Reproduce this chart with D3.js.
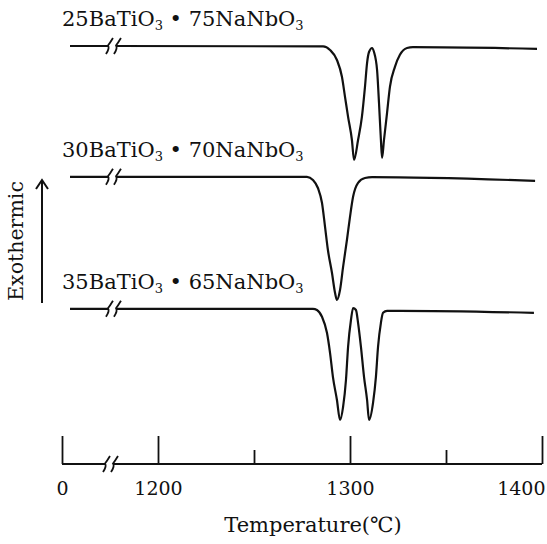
<!DOCTYPE html>
<html>
<head>
<meta charset="utf-8">
<script src="https://cdn.jsdelivr.net/npm/d3@7"></script>
<style>
body { margin: 0; background: #fff; }
text { font-family: "DejaVu Serif", "Liberation Serif", serif; fill: #111; }
</style>
</head>
<body>
<div id="chart"></div>
<script>
var svgWidth = 547;
var svgHeight = 544;

// DTA traces, [temperature (C), signal (arb. units)]
// values below the axis break (< 1200) only carry the flat baseline stub
var curve25 = [[100, 98.5], [587, 98.5], [687, 98.5], [1286, 98.4], [1289.6, 97.5], [1293.2, 95],
    [1295.8, 90.8], [1297.4, 85.8], [1299, 80.8], [1301, 75], [1302.1, 70], [1304.2, 75],
    [1306.2, 80.8], [1307.8, 88.3], [1308.9, 94.3], [1309.9, 97], [1311.5, 98], [1312.5, 97],
    [1314.1, 92.5], [1315.1, 84.3], [1316.1, 75], [1316.7, 70.5], [1317.7, 75], [1319.3, 81.8],
    [1320.8, 88.3], [1323.4, 93.3], [1326, 96.3], [1329.7, 98], [1332.8, 98.2], [1397.4, 97.8]];

var curve30 = [[100, 65.8], [587, 65.8], [687, 65.8], [1277.6, 65.8], [1280.7, 65], [1283.3, 63],
    [1285.4, 59.3], [1287, 53.3], [1288.5, 47.5], [1290.6, 41.8], [1292.2, 36.8], [1293.2, 35],
    [1294.8, 37.5], [1296.4, 43.3], [1298.4, 50], [1300, 55.8], [1301.6, 60.8], [1304.2, 64.3],
    [1307.8, 65.5], [1311.5, 65.7], [1396.4, 64.8]];

var curve35 = [[100, 32.8], [587, 32.8], [687, 32.8], [1280.7, 32.8], [1282.8, 32.5], [1285.4, 30.8],
    [1288, 26.8], [1289.6, 21.8], [1291.1, 15.8], [1293.2, 10], [1294.8, 5], [1296.4, 8.3],
    [1297.9, 15], [1299, 23.3], [1300.5, 30], [1301.6, 33], [1303.1, 32.5], [1304.2, 29.3],
    [1305.7, 23.3], [1307.3, 15.8], [1308.9, 10], [1309.9, 5], [1312, 9.3], [1313.5, 15.8],
    [1314.6, 23.3], [1316.1, 29.3], [1317.2, 31.8], [1319.3, 32.3], [1326, 32.3], [1395.8, 31.8]];

// labels: alternating normal / subscript pieces
var label25 = ["25BaTiO", "3", " \u2022 75NaNbO", "3"];
var label30 = ["30BaTiO", "3", " \u2022 70NaNbO", "3"];
var label35 = ["35BaTiO", "3", " \u2022 65NaNbO", "3"];

var majorTicks = [0, 1200, 1300, 1400];
var minorTicks = [1250, 1350];
var axisBreak = 600;
var curveBreak = 637;

var series = [
    { data: curve25, label: label25 },
    { data: curve30, label: label30 },
    { data: curve35, label: label35 }
];

var svg = d3.select("#chart")
    .append("svg")
    .attr("width", svgWidth)
    .attr("height", svgHeight);

// broken axis: 0 sits left of the break, then 1200-1400 linear
var x = d3.scaleLinear().domain([0, 1200, 1400]).range([62, 158, 542]);
var y = d3.scaleLinear().domain([0, 100]).range([440, 40]);
var axisY = 464;

// one squiggle of the "//" break sign, kinked where it meets the line
function breakMark(kx, ky) {
    return "M" + (kx + 4) + "," + (ky - 8) + " Q" + (kx + 1) + "," + (ky - 3) + " " + (kx - 1) + "," + (ky - 0.5) +
        " Q" + (kx + 1) + "," + (ky + 2) + " " + (kx - 3) + "," + (ky + 8);
}

var line = d3.line()
    .x(d => x(d[0]))
    .y(d => y(d[1]))
    .curve(d3.curveMonotoneX);

series.forEach(function (s) {
    var pre = s.data.filter(d => d[0] < curveBreak);
    var post = s.data.filter(d => d[0] > curveBreak);
    var g = svg.append("g")
        .attr("fill", "none")
        .attr("stroke", "#111")
        .attr("stroke-width", 2.2)
        .attr("stroke-linejoin", "round");

    g.append("path").attr("d", line(pre));
    g.append("path").attr("d", line(post));

    var kx = x(curveBreak);
    g.append("path").attr("d", breakMark(kx - 4, y(pre[pre.length - 1][1]))).attr("stroke-width", 1.8);
    g.append("path").attr("d", breakMark(kx + 4, y(post[0][1]))).attr("stroke-width", 1.8);

    var t = svg.append("text")
        .attr("x", x(0))
        .attr("y", y(s.data[0][1]) - 20)
        .attr("font-size", "21px");
    s.label.forEach(function (part, i) {
        var ts = t.append("tspan").text(part);
        if (i % 2 == 1) {
            ts.attr("font-size", "13px").attr("dy", 4);
        } else if (i > 0) {
            ts.attr("dy", -4);
        }
    });
});

// x axis
var axisG = svg.append("g")
    .attr("transform", `translate(0, ${axisY})`)
    .call(d3.axisBottom(x).tickValues(majorTicks).tickSize(-28).tickPadding(18).tickFormat(d3.format("d")));
axisG.select(".domain").remove();
axisG.selectAll("line").attr("stroke", "#111").attr("stroke-width", 1.8);
axisG.selectAll("text")
    .attr("font-size", "19px")
    .style("font-family", "'DejaVu Serif', serif")
    .attr("fill", "#111");
axisG.selectAll(".tick").filter(d => d == 1400).select("text")
    .attr("text-anchor", "end")
    .attr("dx", 3);

var minorG = svg.append("g")
    .attr("transform", `translate(0, ${axisY})`)
    .call(d3.axisBottom(x).tickValues(minorTicks).tickSize(-14).tickFormat(""));
minorG.select(".domain").remove();
minorG.selectAll("line").attr("stroke", "#111").attr("stroke-width", 1.8);

var bx = x(axisBreak);
var axisLine = svg.append("g")
    .attr("fill", "none")
    .attr("stroke", "#111")
    .attr("stroke-width", 1.8);
axisLine.append("path").attr("d", `M${x(0)},${axisY} L${bx - 4},${axisY}`);
axisLine.append("path").attr("d", `M${bx + 4},${axisY} L${x(1400)},${axisY}`);
axisLine.append("path").attr("d", breakMark(bx - 4, axisY));
axisLine.append("path").attr("d", breakMark(bx + 4, axisY));

svg.append("text")
    .attr("x", 313)
    .attr("y", 532)
    .attr("text-anchor", "middle")
    .attr("font-size", "21px")
    .text("Temperature(\u2103)");

// y label with arrow
svg.append("text")
    .attr("transform", "translate(23, 241) rotate(-90)")
    .attr("text-anchor", "middle")
    .attr("font-size", "20.5px")
    .text("Exothermic");

var arrow = svg.append("g")
    .attr("fill", "none")
    .attr("stroke", "#111")
    .attr("stroke-width", 2);
arrow.append("line").attr("x1", 42).attr("x2", 42).attr("y1", 303).attr("y2", 181);
arrow.append("path").attr("d", "M36,189 L42,180 L48,189");
</script>
</body>
</html>
